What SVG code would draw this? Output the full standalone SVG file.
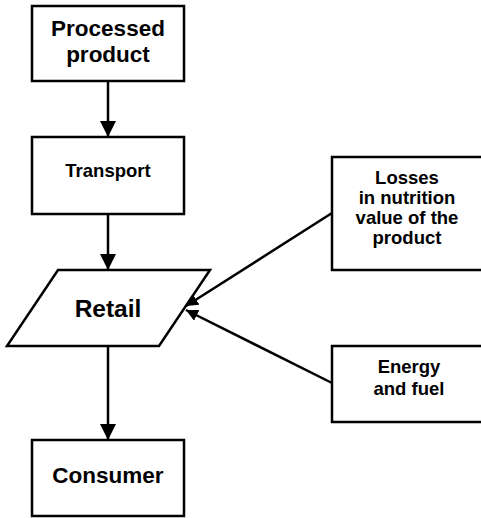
<svg xmlns="http://www.w3.org/2000/svg" width="481" height="518" viewBox="0 0 481 518">
  <style>
    .box { fill: #fff; stroke: #000; stroke-width: 2.5; }
    .edge { fill: none; stroke: #000; stroke-width: 2.5; }
    text { font-family: "Liberation Sans", Arial, sans-serif; font-weight: bold; fill: #000; text-anchor: middle; }
    .big { font-size: 22.5px; }
    .mid { font-size: 18.5px; }
    .side { font-size: 18.5px; }
  </style>
  <defs>
    <marker id="arrow" markerUnits="userSpaceOnUse" markerWidth="16" markerHeight="16" viewBox="0 0 14 14" refX="14" refY="7" orient="auto">
      <path d="M0,0 L14,7 L0,14 Z" fill="#000"/>
    </marker>
    <marker id="arrow-small" markerUnits="userSpaceOnUse" markerWidth="12" markerHeight="12" viewBox="0 0 14 14" refX="14" refY="7" orient="auto">
      <path d="M0,0 L14,7 L0,14 Z" fill="#000"/>
    </marker>
  </defs>
  <rect width="481" height="518" fill="#fff"/>

  <g id="connectors">
    <line class="edge" x1="108" y1="81" x2="108" y2="137" marker-end="url(#arrow)"/>
    <line class="edge" x1="108" y1="214" x2="108" y2="270" marker-end="url(#arrow)"/>
    <line class="edge" x1="108" y1="346" x2="108" y2="440" marker-end="url(#arrow)"/>
    <line class="edge" x1="332" y1="213" x2="186" y2="306" marker-end="url(#arrow-small)"/>
    <line class="edge" x1="332" y1="383" x2="186" y2="310" marker-end="url(#arrow-small)"/>
  </g>

  <g id="processed-product">
    <rect class="box" x="32" y="6" width="152" height="75"/>
    <text class="big" x="108" y="36">Processed</text>
    <text class="big" x="108" y="62">product</text>
  </g>

  <g id="transport">
    <rect class="box" x="32" y="137" width="152" height="77"/>
    <text class="mid" x="108" y="177">Transport</text>
  </g>

  <g id="retail">
    <polygon class="box" points="58,270 210,270 159,346 7,346"/>
    <text x="108" y="317" style="font-size:24.5px">Retail</text>
  </g>

  <g id="consumer">
    <rect class="box" x="32" y="440" width="152" height="76"/>
    <text class="big" x="108" y="483">Consumer</text>
  </g>

  <g id="losses">
    <rect class="box" x="332" y="157" width="156" height="113"/>
    <text class="side" x="407" y="184">Losses</text>
    <text class="side" x="407" y="204">in nutrition</text>
    <text class="side" x="407" y="224">value of the</text>
    <text class="side" x="407" y="244">product</text>
  </g>

  <g id="energy">
    <rect class="box" x="332" y="346" width="156" height="76"/>
    <text class="side" x="409" y="373">Energy</text>
    <text class="side" x="409" y="395">and fuel</text>
  </g>
</svg>
